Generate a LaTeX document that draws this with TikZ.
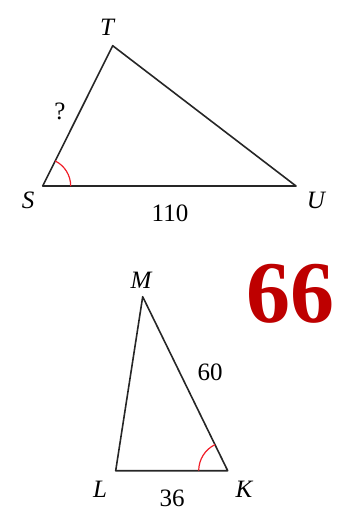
\documentclass[tikz,border=0pt]{standalone}
\usepackage{fontspec}
\setmainfont{Liberation Serif}
\usetikzlibrary{calc}
\definecolor{anglered}{RGB}{240,30,40}
\definecolor{numred}{RGB}{190,0,0}

\begin{document}
\begin{tikzpicture}[
    x=1pt, y=-1pt,
    side/.style={draw=black!85, line width=1.6pt, line join=round},
    vertex/.style={font=\fontsize{25}{25}\selectfont\itshape, inner sep=0pt},
    length/.style={font=\fontsize{25}{25}\selectfont, inner sep=0pt},
    anglemark/.style={draw=anglered, line width=1.2pt},
    bignum/.style={font=\fontsize{88}{88}\selectfont\bfseries, text=numred, inner sep=0pt}
]
\useasboundingbox (0,0) rectangle (337,520);

% Triangle STU
\coordinate (S) at (42.7,186);
\coordinate (T) at (112.7,45.7);
\coordinate (U) at (296,186);
\draw[side] (S) -- (T) -- (U) -- cycle;
\draw[anglemark] ($(S)!28pt!(U)$) arc[start angle=0, end angle=63.5, radius=28pt];

\node[vertex] (lT) at (107,27) {T};
\node[vertex] (lS) at (28,200) {S};
\node[vertex] (lU) at (316,200) {U};
\node[length] (qST) at (60,111) {?};
\node[length] (lSU) at (170,213) {110};

% Triangle LKM
\coordinate (L) at (115.7,470.7);
\coordinate (M) at (142.7,296.7);
\coordinate (K) at (227.7,470.7);
\draw[side] (L) -- (M) -- (K) -- cycle;
\draw[anglemark] ($(K)!29pt!(L)$) arc[start angle=180, end angle=116, radius=29pt];

\node[vertex] (lM) at (141,280) {M};
\node[vertex] (lL) at (100,489) {L};
\node[vertex] (lK) at (244,489) {K};
\node[length] (lMK) at (210,372) {60};
\node[length] (lLK) at (172,498) {36};

% Problem number
\node[bignum] (num) at (290,294) {66};
\end{tikzpicture}
\end{document}
